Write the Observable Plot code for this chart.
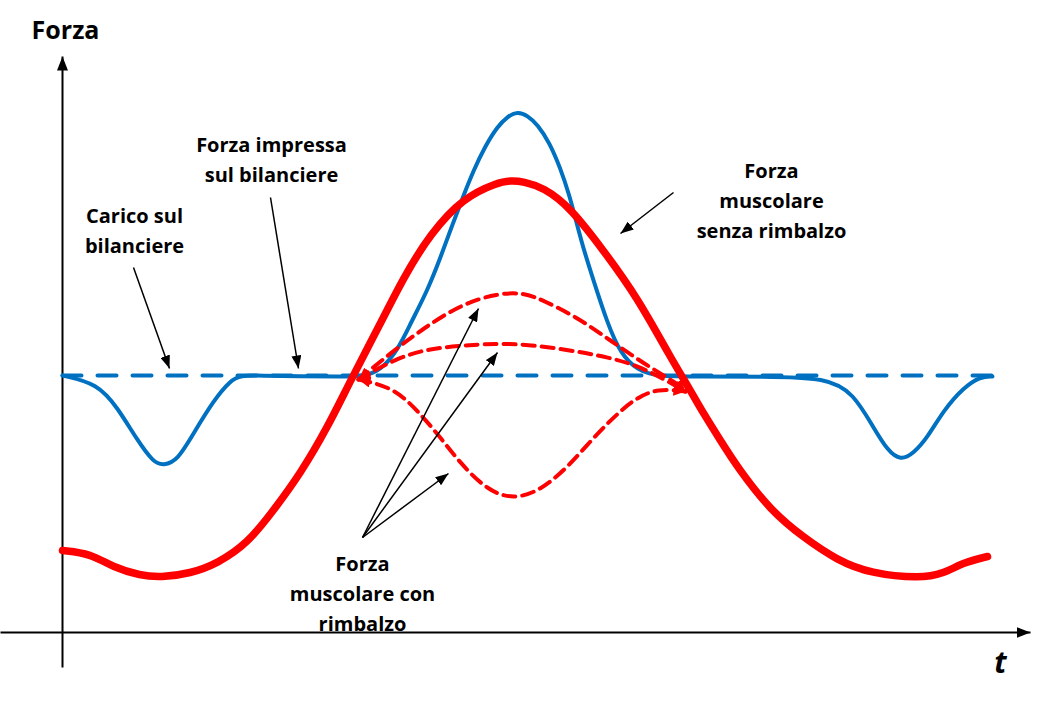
<!DOCTYPE html>
<html>
<head>
<meta charset="utf-8">
<script src="https://cdn.jsdelivr.net/npm/d3@7"></script>
<script src="https://cdn.jsdelivr.net/npm/@observablehq/plot@0.6"></script>
<style>
  html, body { margin: 0; padding: 0; background: #fff; }
  #chart svg { display: block; }
</style>
</head>
<body>
<div id="chart"></div>
<script>
// ---- Data (time t and force F in arbitrary units; load on the bar = 257) ----
const loadF = 257;
const tSpan = [0, 930];

// Forza impressa sul bilanciere (blue solid)
const blueT = [0,35,55,75,91,101,115,131,151,168,178,198,238,278,301,318,335,348,365,378,390,401,411,423,435,445,455,465,475,487,498,507,514,520,531,545,558,575,595,638,698,765,791,811,825,838,851,865,881,901,918,930];
const blueF = [257,249,225,192,170,167,172,199,232,252,257,257,256,256,256,262,282,309,342,375,408,437,462,487,506,516,521,517,508,490,464,437,410,387,352,309,279,262,256,256,256,255,239,205,182,172,179,195,222,245,256,256];

// Forza muscolare senza rimbalzo (red thick)
const redT = [0,28,51,78,98,128,155,185,211,238,265,288,318,341,368,401,435,448,461,481,508,541,575,608,628,641,658,675,708,741,775,808,858,881,901,925];
const redF = [82,79,65,57,55,59,69,89,122,159,205,252,309,355,399,435,450,452,451,445,425,382,335,275,242,219,192,165,122,95,72,59,54,59,70,76];

// Forza muscolare con rimbalzo (three red dashed variants)
const upT  = [296,335,368,401,435,461,481,515,548,581,615,623];
const upF  = [253,285,309,329,339,340,332,315,292,269,249,241];
const midT = [296,335,368,401,445,498,548,581,623];
const midF = [253,275,284,287,290,284,275,265,241];
const lowT = [296,331,355,378,398,425,451,478,505,531,558,575,595,623];
const lowF = [253,245,222,195,169,142,133,142,165,195,222,235,244,241];

// Annotations
const labels = ["Carico sul\nbilanciere", "Forza impressa\nsul bilanciere", "Forza\nmuscolare\nsenza rimbalzo", "Forza\nmuscolare con\nrimbalzo"];
const labelT = [72, 209, 709, 300];
const labelF = [404, 475, 434, 41];

const arrowFromT = [71, 208, 611, 300, 300, 300];
const arrowFromF = [365, 435, 440, 95, 95, 95];
const arrowToT   = [107, 236, 558, 416, 435, 386];
const arrowToF   = [264, 264, 399, 324, 280, 159];

// Axis frame
const axisX1 = [0, -62], axisY1 = [-35, 0];
const axisX2 = [0, 968], axisY2 = [576, 0];
const axisTitles = ["Forza", "t"];
const axisTitleT = [3, 938];
const axisTitleF = [602, -31];

// ---- Build tables ----
const pts = (T, F) => T.map((t, i) => ({t, F: F[i]}));
const blue = pts(blueT, blueF);
const red = pts(redT, redF);
const dashed = [
  ...upT.map((t, i) => ({t, F: upF[i], k: "up"})),
  ...midT.map((t, i) => ({t, F: midF[i], k: "mid"})),
  ...lowT.map((t, i) => ({t, F: lowF[i], k: "low"}))
];
const loadLine = tSpan.map(t => ({t, F: loadF}));
const notes = labels.map((s, i) => ({s, t: labelT[i], F: labelF[i]}));
const arrows = arrowFromT.map((t, i) => ({t1: t, F1: arrowFromF[i], t2: arrowToT[i], F2: arrowToF[i]}));
const axes = axisX1.map((x, i) => ({x1: x, y1: axisY1[i], x2: axisX2[i], y2: axisY2[i]}));

// filled arrowhead marker
function headMarker(len, wid, reverse) {
  return (color) => {
    const ns = "http://www.w3.org/2000/svg";
    const m = document.createElementNS(ns, "marker");
    m.setAttribute("viewBox", `${-len} ${-wid / 2} ${len} ${wid}`);
    m.setAttribute("markerWidth", len);
    m.setAttribute("markerHeight", wid);
    m.setAttribute("markerUnits", "userSpaceOnUse");
    m.setAttribute("refX", 0);
    m.setAttribute("refY", 0);
    m.setAttribute("orient", reverse ? "auto-start-reverse" : "auto");
    m.setAttribute("fill", color);
    m.setAttribute("stroke", "none");
    const p = document.createElementNS(ns, "path");
    p.setAttribute("d", `M0,0L${-len},${-wid / 2}L${-len},${wid / 2}Z`);
    m.appendChild(p);
    return m;
  };
}

const BLUE = "#0070C0", RED = "#FF0000";

const chart = Plot.plot({
  width: 1041,
  height: 708,
  marginLeft: 62,
  marginRight: 49,
  marginTop: 118,
  marginBottom: 76,
  x: {domain: tSpan, axis: null},
  y: {domain: [0, 514], axis: null},
  style: {fontFamily: "'Open Sans', Lato, sans-serif", background: "#fff", overflow: "visible"},
  marks: [
    // axes
    Plot.link(axes, {x1: "x1", y1: "y1", x2: "x2", y2: "y2", stroke: "black", strokeWidth: 2, markerEnd: headMarker(14, 11, false)}),
    // load line
    Plot.line(loadLine, {x: "t", y: "F", stroke: BLUE, strokeWidth: 4, strokeDasharray: "19 16"}),
    // applied force
    Plot.line(blue, {x: "t", y: "F", stroke: BLUE, strokeWidth: 4, curve: "basis"}),
    // muscle force with bounce
    Plot.line(dashed, {x: "t", y: "F", z: "k", stroke: RED, strokeWidth: 4, strokeDasharray: "12 7", curve: "basis",
      markerStart: headMarker(12, 11, true), markerEnd: headMarker(12, 11, false)}),
    // muscle force without bounce
    Plot.line(red, {x: "t", y: "F", stroke: RED, strokeWidth: 7.5, strokeLinecap: "round", curve: "basis"}),
    // annotation arrows
    Plot.link(arrows, {x1: "t1", y1: "F1", x2: "t2", y2: "F2", stroke: "black", strokeWidth: 1.5, markerEnd: headMarker(13, 10, false)}),
    // annotation labels
    Plot.text(notes, {x: "t", y: "F", text: "s", fontSize: 20, fontWeight: "bold", lineHeight: 1.5, fill: "black"}),
    // axis titles
    Plot.text(axisTitles.slice(0, 1), {x: axisTitleT.slice(0, 1), y: axisTitleF.slice(0, 1), text: d => d, fontSize: 25, fontWeight: "bold", fill: "black"}),
    Plot.text(axisTitles.slice(1), {x: axisTitleT.slice(1), y: axisTitleF.slice(1), text: d => d, fontSize: 30, fontWeight: "bold", fontStyle: "italic", fill: "black"})
  ]
});
document.getElementById("chart").appendChild(chart);
</script>
</body>
</html>
